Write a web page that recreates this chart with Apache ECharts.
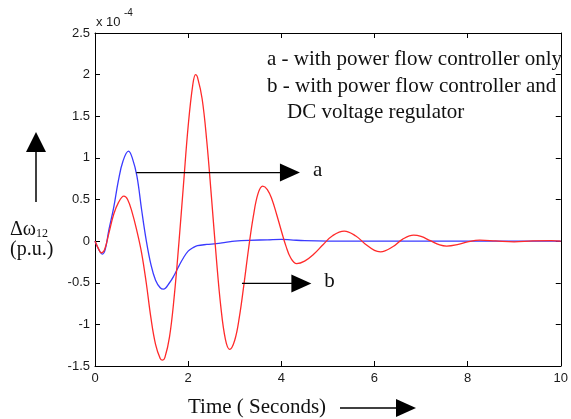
<!DOCTYPE html>
<html><head><meta charset="utf-8">
<script src="https://cdn.jsdelivr.net/npm/echarts@6/dist/echarts.min.js"></script>
<style>html,body{margin:0;padding:0;background:#fff}#c{width:571px;height:419px}</style>
</head><body><div id="c"></div>
<script>
// Axis ranges / ticks
const xTicks = [0, 2, 4, 6, 8, 10];
const yTicks = [-1.5, -1, -0.5, 0, 0.5, 1, 1.5, 2, 2.5];
const yExponent = '-4';

// Curve a (blue): [time s, value x1e-4]
const curveA = [
  [0,0],[0.08,-0.1],[0.16,-0.156],[0.22,-0.1],[0.3,0.14],[0.4,0.40],[0.5,0.72],[0.6,0.96],
  [0.72,1.08],[0.8,1.0],[0.9,0.78],[1.0,0.38],[1.1,0.01],[1.2,-0.28],[1.3,-0.47],[1.4,-0.56],
  [1.47,-0.577],[1.6,-0.5],[1.7,-0.41],[1.8,-0.30],[1.9,-0.20],[2.0,-0.12],[2.1,-0.08],
  [2.2,-0.055],[2.4,-0.04],[2.6,-0.03],[2.8,-0.015],[3.0,0.0],[3.3,0.01],[3.7,0.015],
  [4.0,0.02],[4.2,0.015],[4.5,0.005],[5,0.0],[6,0.0],[7,0.0],[8,0.0],[9,0.0],[10,0.0]
];
// Curve b (red)
const curveB = [
  [0,0],[0.1,-0.12],[0.13,-0.14],[0.2,-0.11],[0.3,0.1],[0.4,0.32],[0.5,0.46],[0.62,0.54],
  [0.7,0.5],[0.8,0.34],[0.9,0.12],[1.0,-0.14],[1.1,-0.5],[1.2,-0.92],[1.3,-1.24],[1.4,-1.41],
  [1.45,-1.43],[1.5,-1.40],[1.6,-1.15],[1.7,-0.67],[1.8,-0.03],[1.9,0.68],[2.0,1.38],[2.1,1.88],
  [2.16,2.0],[2.2,1.97],[2.3,1.71],[2.4,1.20],[2.5,0.53],[2.6,-0.17],[2.7,-0.78],[2.8,-1.18],
  [2.89,-1.30],[3.0,-1.19],[3.1,-0.91],[3.2,-0.51],[3.3,-0.08],[3.4,0.30],[3.5,0.57],[3.6,0.66],
  [3.7,0.62],[3.8,0.50],[3.9,0.32],[4.0,0.125],[4.1,-0.06],[4.2,-0.20],[4.33,-0.27],[4.5,-0.24],
  [4.7,-0.155],[4.9,-0.04],[5.1,0.065],[5.35,0.12],[5.6,0.062],[5.8,-0.034],[6.0,-0.111],
  [6.13,-0.128],[6.4,-0.065],[6.6,0.021],[6.84,0.072],[7.0,0.056],[7.2,0.005],[7.4,-0.046],
  [7.55,-0.06],[7.8,-0.04],[8.0,-0.009],[8.26,0.012],[8.6,0.003],[9.0,-0.008],[9.4,0.004],
  [9.8,0.006],[10,0.0]
];

// Annotation text
const legendLines = ['a - with power flow controller only', 'b - with power flow controller and', 'DC voltage regulator'];
const arrowLabels = ['a', 'b'];
const arrowFrom = [[0.887, 0.823], [3.155, -0.508]];
const arrowTo = [[4.40, 0.823], [4.645, -0.508]];
const yTitle = ['\u0394\u03c9', '12', '(p.u.)'];
const xTitle = 'Time ( Seconds)';

const SERIF = '"Liberation Serif", "DejaVu Serif", serif';
const SANS = '"Liberation Sans", Arial, sans-serif';

const chart = echarts.init(document.getElementById('c'), null, {renderer: 'canvas'});

const axisCommon = {
  type: 'value',
  axisLine: {show: true, onZero: false, lineStyle: {color: '#000', width: 1}},
  axisTick: {show: true, inside: true, length: 5, lineStyle: {color: '#000'}},
  splitLine: {show: false}
};

const option = {
  animation: false,
  backgroundColor: '#fff',
  grid: {left: 95, right: 6, top: 33, bottom: 53, containLabel: false},
  xAxis: [
    Object.assign({}, axisCommon, {
      position: 'bottom', min: xTicks[0], max: xTicks[xTicks.length - 1], interval: xTicks[1] - xTicks[0],
      axisLabel: {color: '#1a1a1a', fontSize: 13, fontFamily: SANS, margin: 6}
    }),
    Object.assign({}, axisCommon, {
      position: 'top', min: xTicks[0], max: xTicks[xTicks.length - 1], interval: xTicks[1] - xTicks[0],
      axisLabel: {show: false}
    })
  ],
  yAxis: [
    Object.assign({}, axisCommon, {
      position: 'left', min: yTicks[0], max: yTicks[yTicks.length - 1], interval: yTicks[1] - yTicks[0],
      axisLabel: {color: '#1a1a1a', fontSize: 13, fontFamily: SANS, margin: 5}
    }),
    Object.assign({}, axisCommon, {
      position: 'right', min: yTicks[0], max: yTicks[yTicks.length - 1], interval: yTicks[1] - yTicks[0],
      axisLabel: {show: false}
    })
  ],
  series: [
    {name: 'a', type: 'line', data: curveA, showSymbol: false, smooth: 0.4,
     lineStyle: {color: '#3a3aff', width: 1.3}, z: 2},
    {name: 'b', type: 'line', data: curveB, showSymbol: false, smooth: 0.4,
     lineStyle: {color: '#ff2a2a', width: 1.3}, z: 3}
  ]
};
chart.setOption(option);

// Annotations
const g = [];
const black = '#000';
const FS = 21;
for (let i = 0; i < 2; i++) {
  const a = chart.convertToPixel({gridIndex: 0}, arrowFrom[i]);
  const b = chart.convertToPixel({gridIndex: 0}, arrowTo[i]);
  const head = 20, half = 9;
  g.push({type: 'line', shape: {x1: a[0], y1: a[1], x2: b[0] - head + 1, y2: b[1]},
          style: {stroke: black, lineWidth: 1.3}, z: 10});
  g.push({type: 'polygon', shape: {points: [[b[0] - head, b[1] - half], [b[0], b[1]], [b[0] - head, b[1] + half]]},
          style: {fill: black}, z: 10});
  g.push({type: 'text', x: b[0] + 13, y: b[1] - 2,
          style: {text: arrowLabels[i], font: FS + 'px ' + SERIF, fill: '#111', verticalAlign: 'middle'}, z: 10});
}
// legend-like text
const legendX = [267, 267, 287];
const legendY = [59, 86, 112];
legendLines.forEach((t, i) => {
  g.push({type: 'text', x: legendX[i], y: legendY[i],
          style: {text: t, font: FS + 'px ' + SERIF, fill: '#111', verticalAlign: 'middle'}, z: 10});
});
// exponent
g.push({type: 'text', x: 96, y: 22, style: {text: 'x 10', font: '13px ' + SANS, fill: '#1a1a1a', verticalAlign: 'middle'}});
g.push({type: 'text', x: 124, y: 13, style: {text: yExponent, font: '10px ' + SANS, fill: '#1a1a1a', verticalAlign: 'middle'}});
// y title arrow
g.push({type: 'polygon', shape: {points: [[26, 152], [36, 132], [46, 152]]}, style: {fill: black}});
g.push({type: 'line', shape: {x1: 36, y1: 150, x2: 36, y2: 202}, style: {stroke: black, lineWidth: 1.5}});
g.push({type: 'text', x: 10, y: 230, style: {
  text: '{m|' + yTitle[0] + '}{s|' + yTitle[1] + '}',
  rich: {m: {font: '20px ' + SERIF, fill: '#111'}, s: {font: '12px ' + SERIF, fill: '#111', padding: [7, 0, 0, 0]}},
  verticalAlign: 'middle'}});
g.push({type: 'text', x: 10, y: 250, style: {text: yTitle[2], font: '20px ' + SERIF, fill: '#111', verticalAlign: 'middle'}});
// x title + arrow
g.push({type: 'text', x: 188, y: 407, style: {text: xTitle, font: FS + 'px ' + SERIF, fill: '#111', verticalAlign: 'middle'}});
g.push({type: 'line', shape: {x1: 340, y1: 408, x2: 397, y2: 408}, style: {stroke: black, lineWidth: 1.5}});
g.push({type: 'polygon', shape: {points: [[396, 399], [416, 408], [396, 417]]}, style: {fill: black}});

chart.setOption({graphic: {elements: g}});
</script>
</body></html>
